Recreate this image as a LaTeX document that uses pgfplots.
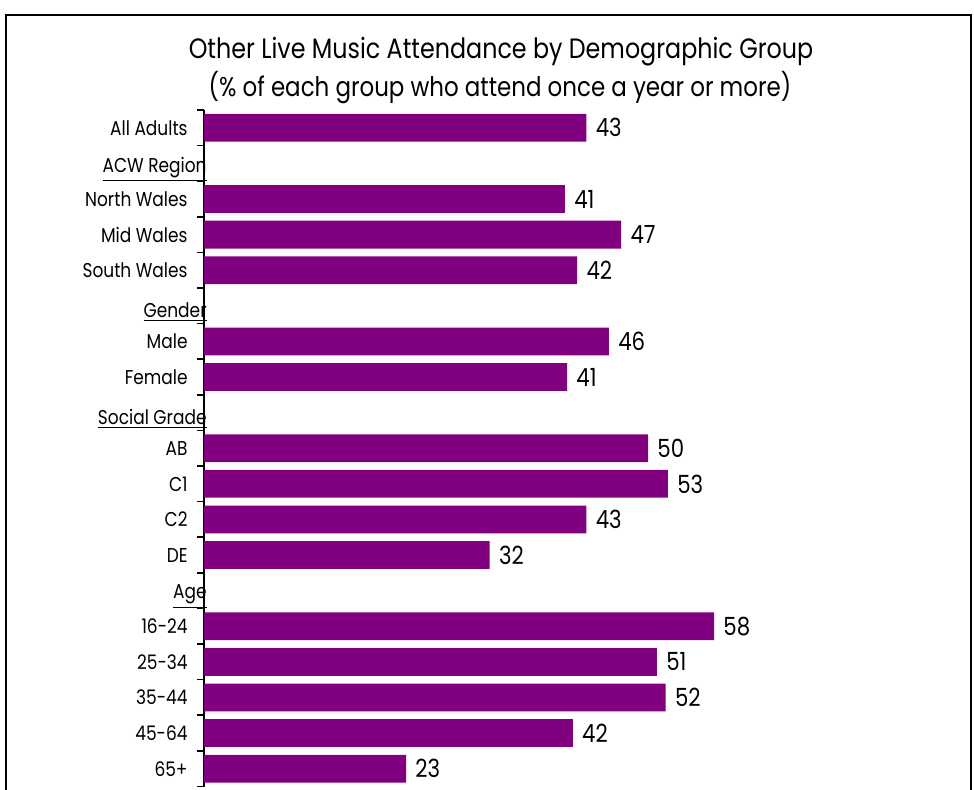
\documentclass[border=0pt]{standalone}
\usepackage{fontspec}
\setmainfont{Poppins}[FakeStretch=0.85]
\usepackage{pgfplots}
\pgfplotsset{compat=1.18}
\definecolor{barpurple}{HTML}{800080}
\newcommand{\hdr}[1]{\raisebox{-3pt}[\height][\depth]{\underline{#1}}\hspace*{-9.5pt}}
\begin{document}
\begin{tikzpicture}
\useasboundingbox (0,0) rectangle (487pt,-395pt);
\draw[line width=1pt] (3pt,-395pt) -- (3pt,-7.5pt) -- (485.5pt,-7.5pt) -- (485.5pt,-395pt);
\node[font=\fontsize{14}{16}\selectfont] at (250.5pt,-26pt) {Other Live Music Attendance by Demographic Group};
\node[font=\fontsize{13.5}{16}\selectfont] at (250pt,-44pt) {(\% of each group who attend once a year or more)};
\begin{axis}[
  at={(102pt,-55pt)}, anchor=north west,
  scale only axis, width=378.5pt, height=338.25pt,
  xmin=0, xmax=86, ymin=-0.5, ymax=18.5, y dir=reverse,
  axis x line=none, axis y line*=left,
  axis line style={line width=1pt},
  ytick={0,...,18},
  yticklabels={All Adults,\hdr{ACW Region},North Wales,Mid Wales,South Wales,\hdr{Gender},Male,Female,\hdr{Social Grade},AB,C1,C2,DE,\hdr{Age},16-24,25-34,35-44,45-64,65+},
  major tick length=0pt,
  minor ytick={-0.5,0.5,...,18.5},
  minor tick length=3.5pt,
  tick align=outside,
  minor tick style={black, line width=0.8pt},
  yticklabel style={font=\fontsize{10}{12}\selectfont, inner sep=0pt, xshift=-8pt},
  clip=false,
  point meta=x,
  nodes near coords={\pgfmathprintnumber[fixed,precision=0,assume math mode=true]{\pgfplotspointmeta}},
  nodes near coords style={font=\fontsize{12.5}{14}\selectfont, anchor=west, inner sep=0pt, xshift=4.5pt},
]
\addplot[xbar, fill=barpurple, draw=none, bar width=0.78] coordinates {(43.45,0) (41.0,2) (47.4,3) (42.4,4) (46.0,6) (41.25,7) (50.45,9) (52.7,10) (43.45,11) (32.45,12) (57.95,14) (51.45,15) (52.45,16) (41.9,17) (22.95,18)};
\end{axis}
\end{tikzpicture}
\end{document}
